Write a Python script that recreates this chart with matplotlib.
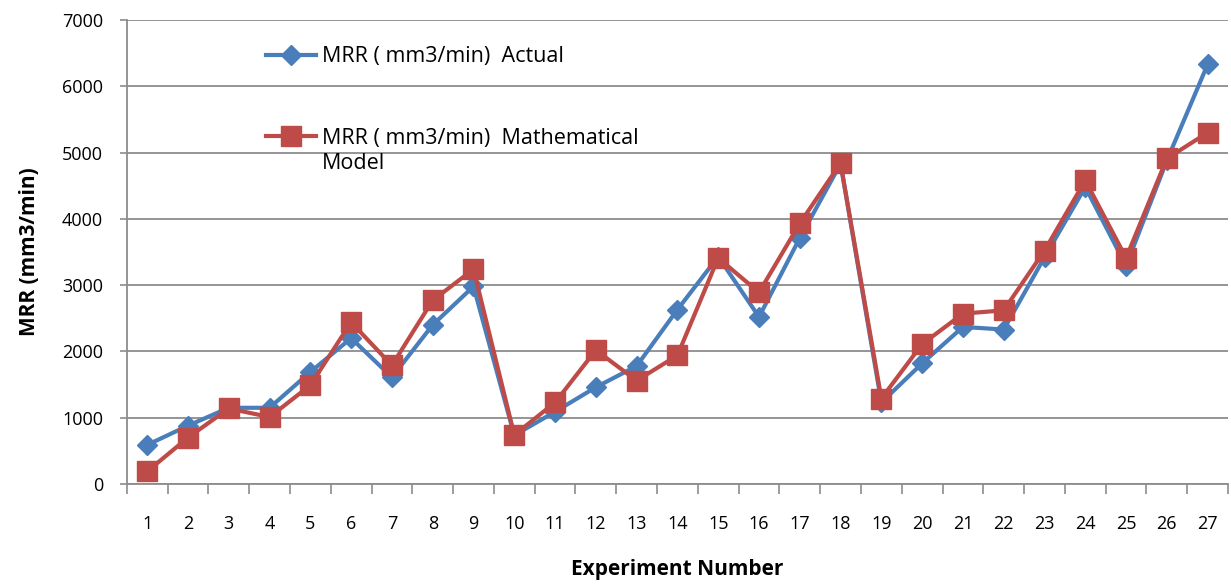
import matplotlib
matplotlib.use("Agg")
import matplotlib.pyplot as plt
import numpy as np

# ======================
# DATA
# ======================
experiments = list(range(1, 28))
mrr_actual = [590, 880, 1150, 1150, 1690, 2200, 1610, 2400, 2980,
              735, 1090, 1460, 1780, 2630, 3430, 2520, 3710, 4830,
              1230, 1820, 2370, 2330, 3420, 4480, 3290, 4880, 6330]
mrr_model = [190, 700, 1140, 1010, 1490, 2440, 1790, 2770, 3240,
             740, 1230, 2020, 1560, 1940, 3410, 2890, 3930, 4840,
             1290, 2110, 2570, 2620, 3520, 4580, 3410, 4910, 5300]

label_actual = "MRR ( mm3/min)  Actual"
label_model = "MRR ( mm3/min)  Mathematical"
label_model_2 = "Model"

# ======================
# STYLE
# ======================
plt.rcParams['font.family'] = ['Open Sans', 'DejaVu Sans']
BLUE = '#4a7ebb'
RED = '#be4b48'
GRID = '#8c8c8c'

fig = plt.figure(figsize=(12.31, 5.86), dpi=100)
ax = fig.add_axes([0.103, 0.174, 0.8946, 0.792])

ax.plot(experiments, mrr_actual, color=BLUE, lw=3, marker='D',
        markersize=10, label=label_actual, zorder=3)
ax.plot(experiments, mrr_model, color=RED, lw=3, marker='s',
        markersize=14, label=label_model, zorder=4)

ax.set_xlim(0.5, 27.5)
ax.set_ylim(0, 7000)
ax.set_yticks(np.arange(0, 7001, 1000))
ax.set_xticks(experiments)
ax.set_xticks(np.arange(0.5, 28, 1), minor=True)
ax.tick_params(axis='x', which='major', length=0, pad=22, labelsize=13)
ax.tick_params(axis='x', which='minor', length=7, color=GRID, width=1.2)
ax.tick_params(axis='y', length=5, color=GRID, width=1.2, labelsize=13, pad=12)

ax.grid(axis='y', color=GRID, lw=1.3)
ax.set_axisbelow(True)
for s in ['top', 'right']:
    ax.spines[s].set_visible(False)
for s in ['left', 'bottom']:
    ax.spines[s].set_color(GRID)
    ax.spines[s].set_linewidth(1.3)

ax.set_ylabel('MRR (mm3/min)', fontsize=15, fontweight='bold', labelpad=16)
ax.set_xlabel('Experiment Number', fontsize=15, fontweight='bold', labelpad=19)

leg = ax.legend(loc='upper left', bbox_to_anchor=(0.109, 0.985), frameon=False,
                fontsize=15.5, labelspacing=2.8, handlelength=2.3,
                handletextpad=0.3)

# second line of the model label, under "Mathematical"
ax.annotate(label_model_2, xy=(0, 0), xycoords=leg.get_texts()[1],
            xytext=(0, -4), textcoords='offset pixels', va='top', ha='left',
            fontsize=15.5, zorder=10)

fig.savefig('out.png', dpi=100)
